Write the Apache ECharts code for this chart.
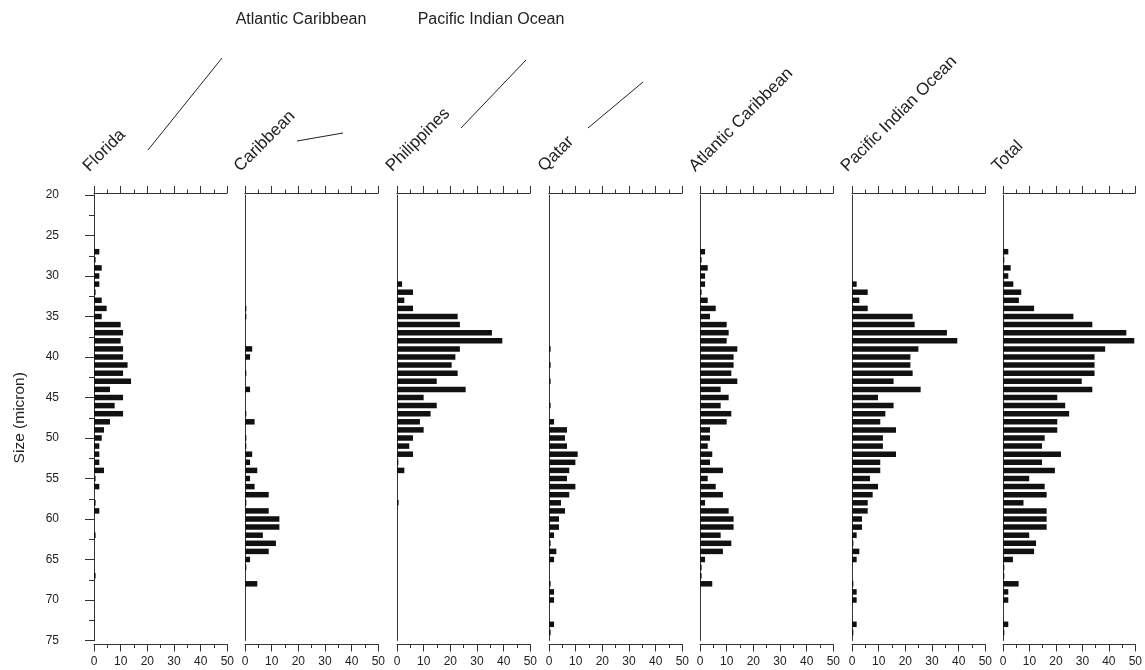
<!DOCTYPE html>
<html><head><meta charset="utf-8">
<script src="https://cdn.jsdelivr.net/npm/echarts@6/dist/echarts.min.js"></script>
<style>html,body{margin:0;padding:0;background:#fff}#c{width:1145px;height:670px}</style>
</head><body><div id="c"></div>
<script>
const sizes = [20,21,22,23,24,25,26,27,28,29,30,31,32,33,34,35,36,37,38,39,40,41,42,43,44,45,46,47,48,49,50,51,52,53,54,55,56,57,58,59,60,61,62,63,64,65,66,67,68,69,70,71,72,73,74,75];

const florida = [0,0,0,0,0,0,0,
  2,0.6,2.9,2,2,0.6,2.9,4.75,2.9,
  10,10.9,10,10.9,10.9,12.6,10.9,13.9,6,10.9,
  7.75,10.9,6,3.75,2.9,2,2,2,3.75,0.6,
  2,0,0.6,2,0,0,0.6,0,0,0,
  0,0.6,0,0,0,0,0,0,0,0];
const caribbean = [0,0,0,0,0,0,0,
  0,0,0,0,0,0,0,0.5,0.5,
  0,0,0,2.7,1.9,0,0.5,0,1.9,0,
  0,0.5,3.6,0,0.5,0.5,2.7,1.9,4.6,1.9,
  3.6,8.9,0.5,8.9,12.9,12.9,6.7,11.6,8.9,1.9,
  0.5,0,4.6,0,0,0,0,0,0,0];
const philippines = [0,0,0,0,0,0,0,
  0,0,0,0,1.9,6,2.75,6,22.75,
  23.6,35.6,39.5,23.6,21.9,20.5,22.75,14.9,25.75,10,
  14.9,12.6,8.6,10,6,4.6,6,0.5,2.75,0,
  0,0,0.6,0,0,0,0,0,0,0,
  0,0,0,0,0,0,0,0,0,0];
const qatar = [0,0,0,0,0,0,0,
  0,0,0,0,0,0,0,0,0,
  0,0,0,0.6,0,0.6,0,0.6,0,0,
  0.6,0,1.9,6.75,6,6.75,10.75,9.9,7.6,6.75,
  9.9,7.6,4.5,6,3.75,3.75,1.9,0.6,2.75,1.9,
  0,0,0.6,1.9,1.9,0,0,1.9,0.6,0];
const atlanticCaribbean = [0,0,0,0,0,0,0,
  1.9,0.6,2.9,1.9,1.9,0.6,2.9,5.9,3.75,
  10,10.75,10,14,12.6,12.6,11.75,14,7.75,10.75,
  7.75,11.75,10,3.75,3.75,2.9,4.6,3.75,8.6,2.9,
  5.9,8.6,1.9,10.75,12.6,12.6,7.75,11.75,8.6,1.9,
  0.6,0.6,4.6,0,0,0,0,0,0,0];
const pacificIndian = [0,0,0,0,0,0,0,
  0,0,0,0,1.75,5.9,2.75,5.9,22.75,
  23.5,35.6,39.5,24.9,21.9,21.9,22.75,15.6,25.75,9.75,
  15.6,12.5,10.6,16.5,11.6,11.6,16.5,10.6,10.6,6.75,
  9.75,7.75,5.9,5.9,3.75,3.75,1.75,0.5,2.75,1.75,
  0,0,0.5,1.75,1.75,0,0,1.75,0.5,0];
const total = [0,0,0,0,0,0,0,
  2,0.5,2.9,2,3.9,6.9,6,11.75,26.6,
  33.75,46.6,49.6,38.6,34.6,34.6,34.6,29.75,33.75,20.5,
  23.5,25,20.5,20.5,15.75,14.75,21.9,14.75,19.6,9.9,
  15.75,16.5,7.75,16.5,16.5,16.5,9.9,12.5,11.75,3.75,
  0.5,0.5,5.9,2,2,0,0,2,0.5,0];

const panelNames = ['Florida','Caribbean','Philippines','Qatar','Atlantic Caribbean','Pacific Indian Ocean','Total'];
const groupNames = ['Atlantic Caribbean','Pacific Indian Ocean'];
const panelData = [florida, caribbean, philippines, qatar, atlanticCaribbean, pacificIndian, total];
const yTitle = 'Size (micron)';

const FONT = '"Liberation Sans", Arial, Helvetica, sans-serif';
const AX = '#333';
const panelLeft = [94,245,397,549,700,852,1003];
const PW = 133.3, TOP = 195, PH = 445.5;

const grids=[], xAxes=[], yAxes=[], series=[], graphics=[];
panelLeft.forEach((l,i)=>{
  grids.push({left:l, top:TOP, width:PW, height:PH});
  const base = {type:'value', gridIndex:i, min:0, max:50, interval:10,
    axisLine:{show:true, lineStyle:{color:AX, width:1}},
    axisTick:{show:true, length:7, lineStyle:{color:AX}},
    minorTick:{show:true, splitNumber:2, length:3.5, lineStyle:{color:AX}},
    splitLine:{show:false}, minorSplitLine:{show:false}};
  xAxes.push(Object.assign({}, base, {position:'bottom', offset:4,
    axisLabel:{color:'#222', fontSize:12, fontFamily:FONT, margin:11}}));
  xAxes.push(Object.assign({}, base, {position:'top', offset:2, axisLabel:{show:false}}));
  yAxes.push({type:'category', gridIndex:i, data:sizes.map(String), inverse:true, boundaryGap:false,
    axisLine:{show:true, lineStyle:{color:AX, width:1}}, axisTick:{show:false}, axisLabel:{show:false}, splitLine:{show:false}});
  series.push({type:'bar', xAxisIndex:2*i, yAxisIndex:i, data:panelData[i], barWidth:5.5,
    itemStyle:{color:'#111'}, silent:true});
  graphics.push({type:'text', x:l-2, y:175, rotation:Math.PI/4,
    style:{text:panelNames[i], font:'17px '+FONT, fill:'#222', textAlign:'left', textVerticalAlign:'bottom'}});
});
yAxes.push({type:'value', gridIndex:0, position:'left', offset:22, min:20, max:75, interval:5, inverse:true,
  name:yTitle, nameLocation:'middle', nameGap:44, nameTextStyle:{color:'#222', fontSize:15.5, fontFamily:FONT},
  axisLine:{show:true, lineStyle:{color:AX, width:1}},
  axisTick:{show:true, length:9, lineStyle:{color:AX}},
  minorTick:{show:true, splitNumber:2, length:5, lineStyle:{color:AX}},
  axisLabel:{color:'#222', fontSize:12, fontFamily:FONT, margin:13},
  splitLine:{show:false}, minorSplitLine:{show:false}});

graphics.push({type:'text', x:301, y:20, style:{text:groupNames[0], font:'16px '+FONT, fill:'#222', textAlign:'center', textVerticalAlign:'middle'}});
graphics.push({type:'text', x:491, y:20, style:{text:groupNames[1], font:'16px '+FONT, fill:'#222', textAlign:'center', textVerticalAlign:'middle'}});
const lines = [[148,150,222,58],[297,141,343,133],[461,128,526,60],[588,128,643,82]];
lines.forEach(s=>graphics.push({type:'line', shape:{x1:s[0],y1:s[1],x2:s[2],y2:s[3]}, style:{stroke:'#222', lineWidth:1}}));

const chart = echarts.init(document.getElementById('c'), null, {renderer:'canvas'});
chart.setOption({animation:false, backgroundColor:'#fff', grid:grids, xAxis:xAxes, yAxis:yAxes, series:series, graphic:graphics});
</script></body></html>
